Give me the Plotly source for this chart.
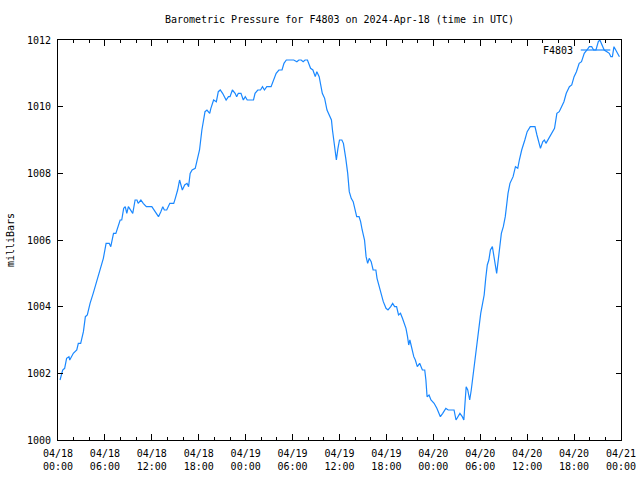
import datetime as dt
import plotly.graph_objects as go

# Hours after 2024-04-18 00:00 UTC and pressure (mbar)
hours = [
    0.26, 0.6, 0.85, 1.1, 1.4, 1.5, 1.96, 2.4, 2.6, 2.9, 3.25, 3.5, 3.75, 4.1, 4.5, 4.96,
    5.4, 5.8, 6.15, 6.55, 6.75, 7.1, 7.4, 7.7, 7.95, 8.15, 8.4, 8.6, 8.8, 9.0, 9.3, 9.56,
    9.86, 10.1, 10.25, 10.6, 10.9, 11.3, 12.0, 12.4, 12.85, 13.15, 13.4, 13.6, 13.9, 14.3,
    14.8, 15.0, 15.3, 15.55, 15.9, 16.2, 16.5, 16.7, 16.9, 17.15, 17.55, 17.75, 18.1, 18.4,
    18.6, 18.8, 19.05, 19.4, 19.55, 19.9, 20.25, 20.5, 20.75, 21.05, 21.5, 21.8, 22.0, 22.3,
    22.65, 22.85, 23.06, 23.4, 23.7, 23.95, 24.2, 25.0, 25.2, 25.55, 25.9, 26.15, 26.4, 26.7,
    27.25, 27.6, 27.9, 28.25, 28.65, 28.9, 29.2, 30.15, 30.55, 30.8, 31.1, 31.35, 31.6, 31.9,
    32.3, 32.6, 32.9, 33.1, 33.4, 33.8, 34.1, 34.4, 34.75, 34.97, 35.1, 35.36, 35.6, 35.8,
    36.0, 36.3, 36.5, 36.8, 37.05, 37.25, 37.5, 37.75, 38.0, 38.2, 38.5, 38.7, 38.9, 39.2,
    39.4, 39.6, 39.8, 40.05, 40.3, 40.65, 40.8, 41.1, 41.35, 41.6, 41.95, 42.2, 42.55, 42.8,
    43.05, 43.3, 43.55, 43.8, 44.05, 44.5, 44.7, 44.85, 45.0, 45.3, 45.5, 45.7, 45.95, 46.25,
    46.4, 46.6, 46.9, 47.05, 47.2, 47.45, 47.7, 48.1, 48.45, 48.9, 49.2, 49.6, 49.9, 50.65,
    50.9, 51.15, 51.4, 51.7, 51.9, 52.05, 52.2, 52.4, 52.65, 52.85, 53.0, 53.2, 53.4, 53.6,
    53.85, 54.06, 54.3, 54.5, 54.7, 54.9, 55.1, 55.3, 55.55, 55.8, 56.0, 56.1, 56.35, 56.6,
    56.7, 56.95, 57.2, 57.4, 57.55, 57.8, 58.0, 58.2, 58.5, 58.8, 59.0, 59.3, 59.7, 60.0,
    60.4, 61.0, 61.25, 61.5, 61.7, 62.0, 62.2, 62.4, 62.8, 63.2, 63.5, 63.8, 64.1, 64.4,
    64.7, 65.0, 65.4, 65.7, 66.0, 66.3, 66.65, 66.95, 67.3, 67.65, 67.95, 68.25, 68.5, 68.8,
    69.1, 69.3, 69.5, 69.85, 70.2, 70.5, 70.7, 70.9, 71.1, 71.3, 71.5, 71.8,
]
pressure = [
    1001.8, 1002.1, 1002.15, 1002.45, 1002.5, 1002.4, 1002.6, 1002.7, 1002.9, 1002.9, 1003.25,
    1003.7, 1003.75, 1004.1, 1004.4, 1004.8, 1005.1, 1005.45, 1005.9, 1005.9, 1005.8, 1006.2,
    1006.2, 1006.45, 1006.6, 1006.6, 1006.95, 1007.0, 1006.8, 1007.0, 1006.9, 1006.8, 1007.2,
    1007.2, 1007.1, 1007.2, 1007.1, 1007.0, 1007.0, 1006.85, 1006.7, 1006.85, 1007.0, 1006.9,
    1006.9, 1007.1, 1007.1, 1007.25, 1007.5, 1007.8, 1007.5, 1007.65, 1007.7, 1007.6, 1008.0,
    1008.1, 1008.15, 1008.35, 1008.7, 1009.3, 1009.6, 1009.85, 1009.9, 1009.8, 1009.95, 1010.2,
    1010.15, 1010.45, 1010.5, 1010.4, 1010.2, 1010.3, 1010.3, 1010.5, 1010.4, 1010.3, 1010.4,
    1010.4, 1010.2, 1010.3, 1010.2, 1010.2, 1010.4, 1010.5, 1010.5, 1010.6, 1010.5, 1010.6,
    1010.6, 1010.8, 1011.0, 1011.1, 1011.1, 1011.3, 1011.4, 1011.4, 1011.35, 1011.4, 1011.4,
    1011.35, 1011.4, 1011.4, 1011.15, 1011.1, 1010.9, 1011.05, 1010.9, 1010.4, 1010.25, 1009.9,
    1009.7, 1009.6, 1009.3, 1008.75, 1008.4, 1008.75, 1009.0, 1009.0, 1008.9, 1008.45, 1008.0,
    1007.45, 1007.25, 1007.15, 1006.85, 1006.7, 1006.7, 1006.55, 1006.3, 1006.0, 1005.5, 1005.3,
    1005.45, 1005.35, 1005.1, 1005.1, 1004.85, 1004.6, 1004.4, 1004.15, 1003.95, 1003.9, 1004.0,
    1004.1, 1004.0, 1004.0, 1003.75, 1003.8, 1003.65, 1003.35, 1003.1, 1002.85, 1003.0, 1002.65,
    1002.5, 1002.4, 1002.2, 1002.3, 1002.2, 1002.1, 1002.1, 1001.8, 1001.3, 1001.35, 1001.2,
    1001.1, 1000.95, 1000.7, 1000.8, 1000.95, 1000.9, 1000.9, 1000.6, 1000.7, 1000.8, 1000.7,
    1000.6, 1001.1, 1001.6, 1001.5, 1001.2, 1001.5, 1001.8, 1002.15, 1002.45, 1002.95, 1003.35,
    1003.8, 1004.1, 1004.35, 1004.85, 1005.25, 1005.4, 1005.7, 1005.8, 1005.4, 1005.2, 1005.0,
    1005.5, 1005.9, 1006.2, 1006.4, 1006.7, 1007.1, 1007.4, 1007.7, 1007.8, 1007.9, 1008.2,
    1008.15, 1008.4, 1008.7, 1009.0, 1009.25, 1009.4, 1009.4, 1009.15, 1008.9, 1008.75, 1008.95,
    1009.0, 1008.9, 1009.05, 1009.2, 1009.35, 1009.8, 1009.85, 1010.0, 1010.15, 1010.4, 1010.6,
    1010.65, 1010.9, 1011.05, 1011.3, 1011.35, 1011.6, 1011.7, 1011.8, 1011.8, 1011.7, 1011.7,
    1011.95, 1012.0, 1011.9, 1011.7, 1011.65, 1011.6, 1011.5, 1011.5, 1011.8, 1011.7, 1011.65,
    1011.5,
]

tick_values = [
    "2024-04-18 00:00", "2024-04-18 06:00", "2024-04-18 12:00", "2024-04-18 18:00",
    "2024-04-19 00:00", "2024-04-19 06:00", "2024-04-19 12:00", "2024-04-19 18:00",
    "2024-04-20 00:00", "2024-04-20 06:00", "2024-04-20 12:00", "2024-04-20 18:00",
    "2024-04-21 00:00",
]
tick_labels = [
    "04/18<br>00:00", "04/18<br>06:00", "04/18<br>12:00", "04/18<br>18:00",
    "04/19<br>00:00", "04/19<br>06:00", "04/19<br>12:00", "04/19<br>18:00",
    "04/20<br>00:00", "04/20<br>06:00", "04/20<br>12:00", "04/20<br>18:00",
    "04/21<br>00:00",
]
y_ticks = [1000, 1002, 1004, 1006, 1008, 1010, 1012]
series_name = "F4803"
title_text = "Barometric Pressure for F4803 on 2024-Apr-18 (time in UTC)"

base = dt.datetime(2024, 4, 18, 0, 0)
times = [base + dt.timedelta(hours=h) for h in hours]

FONT = "DejaVu Sans Mono"
LINE_COLOR = "#1a88ff"

fig = go.Figure()
fig.add_trace(go.Scatter(x=times, y=pressure, mode="lines", name=series_name,
                         line=dict(color=LINE_COLOR, width=1.2), showlegend=False))

# legend key (gnuplot style: text left of sample)
fig.add_annotation(text=series_name, xref="paper", yref="paper", x=0.918, y=0.975,
                   xanchor="right", yanchor="middle", showarrow=False,
                   font=dict(family=FONT, size=10, color="black"))
fig.add_shape(type="line", xref="paper", yref="paper", x0=0.9285, x1=0.981,
              y0=0.975, y1=0.975, line=dict(color=LINE_COLOR, width=1.2))

fig.update_layout(
    width=640, height=480,
    margin=dict(l=58, r=19, t=40, b=40),
    paper_bgcolor="white", plot_bgcolor="white",
    font=dict(family=FONT, size=10, color="black"),
    title=dict(text=title_text, x=0.5, xref="paper", y=1 - 19 / 480, yref="container",
               xanchor="center", yanchor="middle", font=dict(family=FONT, size=10)),
)
fig.update_xaxes(
    type="date", range=[tick_values[0], tick_values[-1]], automargin=False,
    tickmode="array", tickvals=tick_values, ticktext=tick_labels,
    ticks="inside", ticklen=6, tickcolor="black", tickwidth=1,
    showline=True, linecolor="black", linewidth=1, mirror="allticks",
    showgrid=False, zeroline=False, ticklabelstandoff=4,
    minor=dict(tickmode="linear", tick0="2024-04-18 00:00", dtick=7200000,
               ticks="inside", ticklen=3, tickcolor="black", showgrid=False),
    tickfont=dict(family=FONT, size=10),
)
fig.update_yaxes(
    range=[1000, 1012], tickmode="array", tickvals=y_ticks, automargin=False,
    ticks="inside", ticklen=5, tickcolor="black", tickwidth=1,
    showline=True, linecolor="black", linewidth=1, mirror="allticks",
    showgrid=False, zeroline=False, ticklabelstandoff=4,
    title=dict(text="milliBars", standoff=10, font=dict(family=FONT, size=10)),
    tickfont=dict(family=FONT, size=10),
)

fig.write_html("out.html")
